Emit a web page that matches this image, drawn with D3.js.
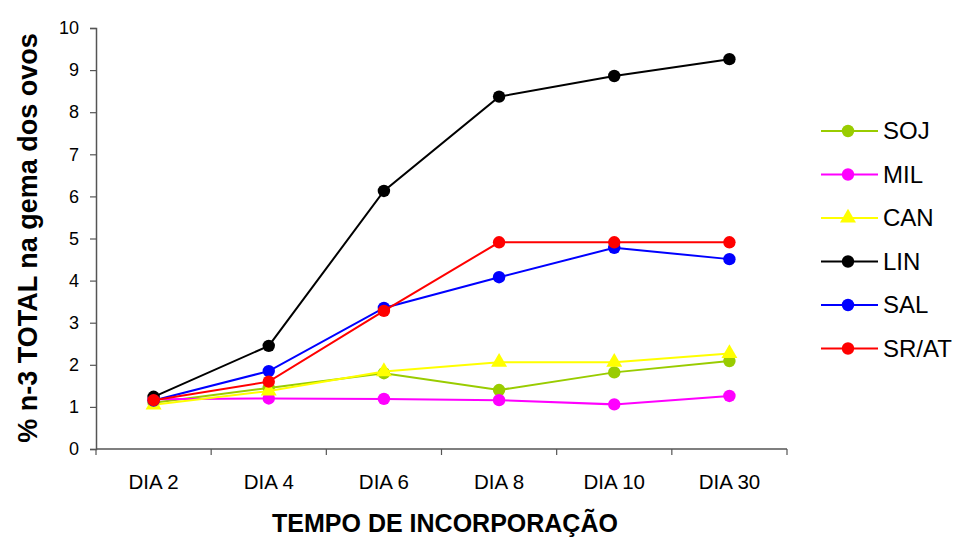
<!DOCTYPE html>
<html>
<head>
<meta charset="utf-8">
<script src="https://cdn.jsdelivr.net/npm/d3@7"></script>
<style>
  html, body { margin: 0; padding: 0; background: #fff; }
  svg { display: block; font-family: "Liberation Sans", Arial, sans-serif; }
</style>
</head>
<body>
<svg id="chart" width="965" height="539"></svg>
<script>
// Incorporation time (x categories)
const categories = ["DIA 2", "DIA 4", "DIA 6", "DIA 8", "DIA 10", "DIA 30"];
const yTicks = [0, 1, 2, 3, 4, 5, 6, 7, 8, 9, 10];

// % total n-3 in egg yolk, per diet
const soj  = [1.10, 1.45, 1.80, 1.40, 1.82, 2.09];
const mil  = [1.18, 1.20, 1.19, 1.16, 1.06, 1.26];
const can  = [1.05, 1.38, 1.84, 2.06, 2.06, 2.27];
const lin  = [1.24, 2.45, 6.13, 8.37, 8.86, 9.26];
const sal  = [1.15, 1.85, 3.35, 4.08, 4.78, 4.51];
const srat = [1.16, 1.60, 3.28, 4.91, 4.91, 4.91];

const seriesNames  = ["SOJ", "MIL", "CAN", "LIN", "SAL", "SR/AT"];
const seriesValues = [soj, mil, can, lin, sal, srat];
const seriesColors = ["#99cc00", "#ff00ff", "#ffff00", "#000000", "#0000ff", "#ff0000"];
const seriesShapes = ["circle", "circle", "triangle", "circle", "circle", "circle"];

const svg = d3.select("#chart");
const margin = { left: 96, right: 178, top: 28, bottom: 90 };
const width = 965, height = 539;

const x = d3.scaleBand()
  .domain(categories)
  .range([margin.left, width - margin.right])
  .paddingInner(0).paddingOuter(0);

const y = d3.scaleLinear()
  .domain([0, 10])
  .range([height - margin.bottom, margin.top]);

const axisColor = "#555";

// y axis
const yAxis = svg.append("g")
  .attr("transform", `translate(${margin.left},0)`)
  .call(d3.axisLeft(y).tickValues(yTicks).tickSize(6).tickPadding(11).tickFormat(d3.format("d")));
yAxis.select(".domain").attr("stroke", axisColor).attr("stroke-width", 1.5);
yAxis.selectAll(".tick line").attr("stroke", axisColor).attr("stroke-width", 1.2);
yAxis.selectAll(".tick text").attr("font-size", 18).attr("fill", "#000")
  .attr("font-family", "'Liberation Sans', Arial, sans-serif");

// x axis with tick marks at category boundaries
const xAxisG = svg.append("g")
  .attr("transform", `translate(0,${y(0)})`);
xAxisG.append("line")
  .attr("x1", margin.left).attr("x2", width - margin.right)
  .attr("stroke", axisColor).attr("stroke-width", 1.5);
const boundaries = categories.map(c => x(c)).concat([x(categories[categories.length - 1]) + x.bandwidth()]);
xAxisG.selectAll("line.b").data(boundaries).enter().append("line")
  .attr("class", "b")
  .attr("x1", d => d).attr("x2", d => d)
  .attr("y1", 0).attr("y2", 6)
  .attr("stroke", axisColor).attr("stroke-width", 1.2);
xAxisG.selectAll("text").data(categories).enter().append("text")
  .attr("x", d => x(d) + x.bandwidth() / 2)
  .attr("y", 40)
  .attr("text-anchor", "middle")
  .attr("font-size", 20.5)
  .text(d => d);

// axis titles
svg.append("text")
  .attr("x", 445)
  .attr("y", 532)
  .attr("text-anchor", "middle")
  .attr("font-size", 25).attr("font-weight", "bold")
  .text("TEMPO DE INCORPORAÇÃO");

svg.append("text")
  .attr("transform", `translate(37,238) rotate(-90)`)
  .attr("text-anchor", "middle")
  .attr("font-size", 27).attr("font-weight", "bold")
  .text("% n-3 TOTAL na gema dos ovos");

const cx = c => x(c) + x.bandwidth() / 2;
const line = d3.line().x((d, i) => cx(categories[i])).y(d => y(d));
const tri = d3.symbol().type(d3.symbolTriangle).size(110);

function marker(g, shape, color, px, py) {
  if (shape === "triangle") {
    g.append("path").attr("d", tri()).attr("transform", `translate(${px},${py})`)
      .attr("fill", color);
  } else {
    g.append("circle").attr("cx", px).attr("cy", py).attr("r", 6.2).attr("fill", color);
  }
}

seriesValues.forEach((vals, si) => {
  const g = svg.append("g");
  g.append("path").datum(vals)
    .attr("d", line)
    .attr("fill", "none")
    .attr("stroke", seriesColors[si])
    .attr("stroke-width", 2);
  vals.forEach((v, i) => marker(g, seriesShapes[si], seriesColors[si], cx(categories[i]), y(v)));
});

// legend
const legend = svg.append("g");
seriesNames.forEach((name, i) => {
  const ly = 131 + i * 43.5;
  const g = legend.append("g");
  g.append("line").attr("x1", 821).attr("x2", 878).attr("y1", ly).attr("y2", ly)
    .attr("stroke", seriesColors[i]).attr("stroke-width", 2);
  marker(g, seriesShapes[i], seriesColors[i], 848, ly);
  g.append("text").attr("x", 883).attr("y", ly + 8).attr("font-size", 24).text(name);
});
</script>
</body>
</html>
